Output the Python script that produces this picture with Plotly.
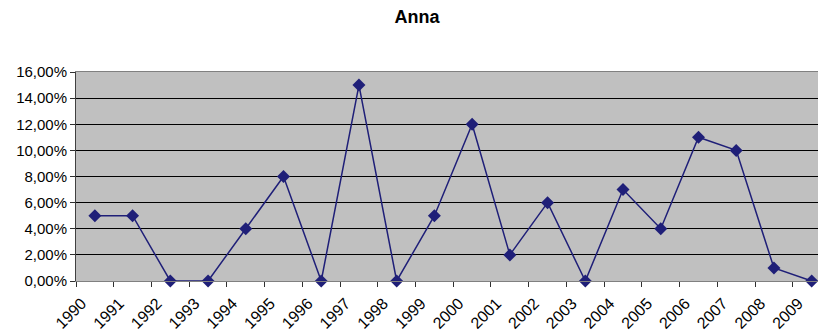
import plotly.graph_objects as go

years = [str(y) for y in range(1990, 2010)]
values = [5, 5, 0, 0, 4, 8, 0, 15, 0, 5, 12, 2, 6, 0, 7, 4, 11, 10, 1, 0]
y_ticks = [0, 2, 4, 6, 8, 10, 12, 14, 16]

x_pos = [i + 0.5 for i in range(len(years))]
y_frac = [v / 100 for v in values]
x_range = [0, 19.88]
label_shift = 0.15

fig = go.Figure()
fig.add_trace(go.Scatter(
    x=x_pos, y=y_frac, mode="lines+markers",
    line=dict(color="#1F1F78", width=1.5),
    marker=dict(symbol="diamond", size=10, color="#1F1F78"),
    cliponaxis=False, showlegend=False,
))
# invisible trace to activate label axis
fig.add_trace(go.Scatter(x=[x_range[0]], y=[0], xaxis="x2", mode="markers",
                         marker=dict(opacity=0), showlegend=False, hoverinfo="skip"))

fig.update_layout(
    width=818, height=324,
    margin=dict(l=68, r=0, t=64, b=51),
    paper_bgcolor="white", plot_bgcolor="#C0C0C0",
    separators=",.",
    font=dict(family="Liberation Sans, Arial", size=15, color="black"),
    title=dict(text="<b>Anna</b>", x=0.5, xanchor="center", y=0.972, yanchor="middle",
               font=dict(size=18, family="Liberation Sans, Arial", color="black")),
    xaxis=dict(
        range=x_range, tickmode="array",
        tickvals=list(range(len(years))), ticktext=[""] * len(years),
        ticks="outside", ticklen=5, tickcolor="#303030",
        showgrid=False, zeroline=False,
        showline=True, linecolor="#808080", linewidth=1, mirror=True,
    ),
    xaxis2=dict(
        overlaying="x", side="bottom", anchor="y",
        range=x_range, tickmode="array",
        tickvals=[i + label_shift for i in range(len(years))], ticktext=years,
        tickangle=-45, ticks="", ticklabelstandoff=9,
        tickfont=dict(size=16),
        showgrid=False, zeroline=False, showline=False,
    ),
    yaxis=dict(
        range=[0, 0.16], tickmode="array",
        tickvals=[t / 100 for t in y_ticks], tickformat=".2%",
        ticks="outside", ticklen=5, tickcolor="#303030",
        showgrid=True, gridcolor="black", gridwidth=1,
        zeroline=True, zerolinecolor="black", zerolinewidth=1,
        showline=True, linecolor="#404040", linewidth=1,
    ),
)

fig.write_html("out.html")
